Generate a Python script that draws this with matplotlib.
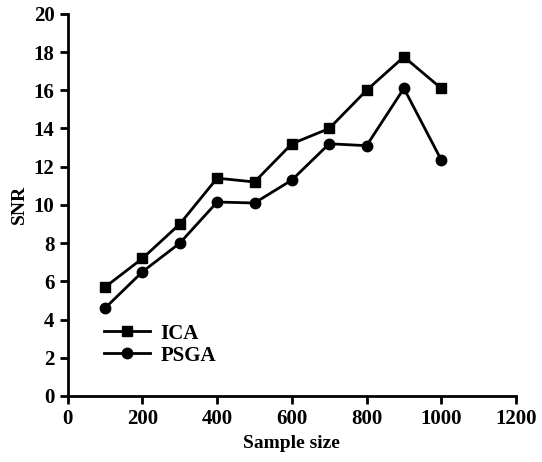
import matplotlib
matplotlib.use('Agg')
import matplotlib.pyplot as plt

# sample sizes and SNR values
sample_size = [100, 200, 300, 400, 500, 600, 700, 800, 900, 1000]
snr_ica = [5.7, 7.2, 9.0, 11.4, 11.2, 13.2, 14.0, 16.0, 17.75, 16.1]
snr_psga = [4.6, 6.5, 8.0, 10.15, 10.1, 11.3, 13.2, 13.1, 16.1, 12.35]

plt.rcParams['font.family'] = ['Liberation Serif', 'DejaVu Serif']
plt.rcParams['font.weight'] = 'bold'

fig = plt.figure(figsize=(5.42, 4.62), dpi=100)
ax = fig.add_axes([0.125, 0.143, 0.827, 0.827])

ax.plot(sample_size, snr_ica, color='black', lw=2, marker='s', ms=7.5, label='ICA')
ax.plot(sample_size, snr_psga, color='black', lw=2, marker='o', ms=7.5, label='PSGA')

ax.set_xlim(0, 1200)
ax.set_ylim(0, 20)
ax.set_xticks(range(0, 1201, 200))
ax.set_yticks(range(0, 21, 2))

ax.spines['top'].set_visible(False)
ax.spines['right'].set_visible(False)
ax.spines['left'].set_linewidth(2)
ax.spines['bottom'].set_linewidth(2)
ax.tick_params(width=2, length=6, labelsize=15)

ax.set_xlabel('Sample size', fontsize=14, fontweight='bold', labelpad=4)
ax.set_ylabel('SNR', fontsize=14, fontweight='bold')

ax.legend(loc='lower left', bbox_to_anchor=(0.04, 0.03), frameon=False,
          fontsize=15, handlelength=2.2, labelspacing=0.1, handletextpad=0.5)

fig.savefig('out.png', dpi=100)
